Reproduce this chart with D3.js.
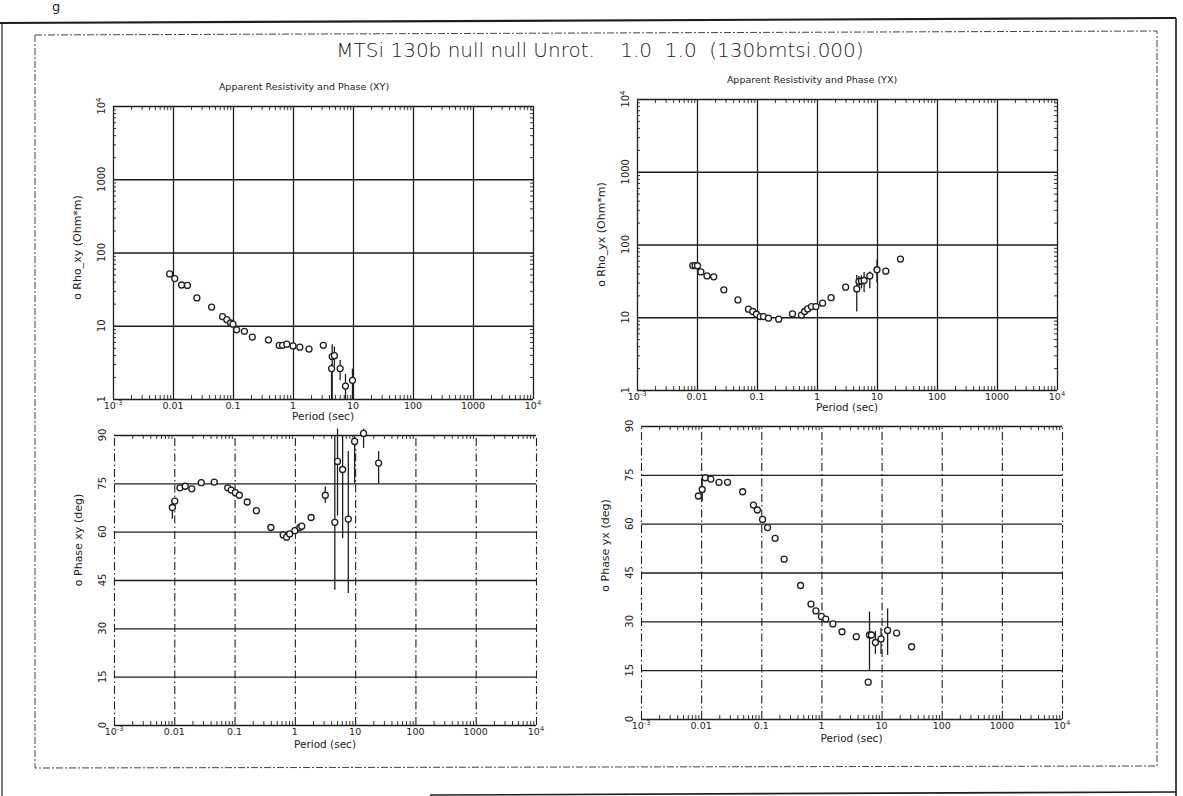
<!DOCTYPE html>
<html><head><meta charset="utf-8">
<script src="https://cdn.jsdelivr.net/npm/d3@7"></script>
<style>
body{margin:0;background:#fff}
svg{display:block}
text{font-family:"DejaVu Sans","Liberation Sans",sans-serif;fill:#222}
</style>
</head><body>
<svg id="c" width="1183" height="796"></svg>
<script>
// ---------- tick data ----------
const periodTicks = [1e-3, 1e-2, 1e-1, 1, 10, 100, 1000, 1e4];
const periodTickLabels = [["10","-3"],["0.01"],["0.1"],["1"],["10"],["100"],["1000"],["10","4"]];
const rhoTicks = [1, 10, 100, 1000, 1e4];
const rhoTickLabels = [["1"],["10"],["100"],["1000"],["10","4"]];
const phaseTicks = [0, 15, 30, 45, 60, 75, 90];
const phaseTickLabels = ["0","15","30","45","60","75","90"];

// ---------- Rho XY ----------
const rhoXYPeriod = [0.0088,0.0107,0.0139,0.0174,0.025,0.044,0.067,0.079,0.091,0.1,0.115,0.155,0.21,0.39,0.59,0.67,0.79,1.0,1.3,1.85,3.2,4.5,4.9,4.4,6.1,7.5,9.8];
const rhoXYValue  = [51,44,36,35.5,24,18,13.3,12.1,10.9,10.5,8.8,8.4,7.0,6.4,5.4,5.4,5.6,5.3,5.1,4.8,5.4,3.8,3.9,2.6,2.6,1.5,1.8];
const rhoXYErrPeriod = [4.4,4.5,4.9,6.1,7.5,9.8];
const rhoXYErrLo     = [1.0,1.0,2.8,1.8,1.0,1.0];
const rhoXYErrHi     = [3.0,5.6,5.2,3.4,2.2,2.6];

// ---------- Rho YX ----------
const rhoYXPeriod = [0.0085,0.0093,0.0102,0.0116,0.0147,0.019,0.028,0.048,0.072,0.085,0.098,0.113,0.128,0.155,0.23,0.39,0.55,0.62,0.7,0.81,0.96,1.24,1.72,3.0,4.6,5.0,5.5,6.1,7.6,10,14,24.6];
const rhoYXValue  = [51.4,51.4,51,42,37,36,23.8,17.3,12.9,12,11,10.2,10.2,9.7,9.4,11.1,10.7,12,13,14,14,15.6,18.6,25.9,24.5,31,31.5,32,37,45,43,63];
const rhoYXErrPeriod = [4.6,5.0,5.5,6.1,7.6,10];
const rhoYXErrLo     = [12,26,25,22,25,30];
const rhoYXErrHi     = [38,37,38,42,42.6,62];

// ---------- Phase XY ----------
const phaseXYPeriod = [0.0093,0.0102,0.0124,0.0152,0.0195,0.028,0.046,0.077,0.088,0.103,0.12,0.162,0.23,0.4,0.64,0.73,0.82,1.0,1.21,1.3,1.86,3.2,4.6,5.1,6.2,7.7,9.8,13.8,24.5];
const phaseXYValue  = [67.5,69.5,73.6,74.1,73.3,75.2,75.4,73.6,72.9,72.1,71.3,69.2,66.5,61.3,59,58.3,59.3,60.3,61.3,61.7,64.4,71.3,62.9,81.8,79.3,63.9,88,90.5,81.3];
const phaseXYErrPeriod = [0.0093,3.2,4.6,5.1,6.2,7.7,9.8,13.8,24.5];
const phaseXYErrLo     = [64,69,42,65,58,41,75,86,75];
const phaseXYErrHi     = [70,74,90,92,90,85,90,92,85];

// ---------- Phase YX ----------
const phaseYXPeriod = [0.009,0.0104,0.0117,0.0145,0.0198,0.0275,0.049,0.074,0.086,0.105,0.127,0.17,0.24,0.45,0.67,0.81,1.0,1.18,1.55,2.2,3.8,6.0,6.3,6.8,7.9,9.8,12.6,17.8,31.6];
const phaseYXValue  = [68.5,70.5,74.1,73.7,72.7,72.7,69.8,65.7,64.2,61.3,58.8,55.5,49.1,41,35.3,33.2,31.5,30.7,29.2,26.8,25.3,11.3,25.8,25.8,23.5,24.6,27.2,26.4,22.2];
const phaseYXErrPeriod = [0.0104,6.3,7.9,9.8,12.6];
const phaseYXErrLo     = [67,15,20,20,19.7];
const phaseYXErrHi     = [74,33,27,28,34];

// ---------- texts ----------
const titleText = "MTSi 130b null null Unrot.    1.0  1.0  (130bmtsi.000)";
const subXY = "Apparent Resistivity and Phase (XY)";
const subYX = "Apparent Resistivity and Phase (YX)";

const svg = d3.select("#c");
const ink = "#1e1e1e";

// page frame (scanned page borders)
svg.append("line").attr("x1",0).attr("y1",23).attr("x2",1176).attr("y2",18).attr("stroke",ink).attr("stroke-width",2.2);
svg.append("line").attr("x1",1176).attr("y1",18).attr("x2",1176).attr("y2",796).attr("stroke",ink).attr("stroke-width",1.6);
svg.append("line").attr("x1",2).attr("y1",23).attr("x2",2).attr("y2",796).attr("stroke",ink).attr("stroke-width",1.2);
svg.append("line").attr("x1",430).attr("y1",795).attr("x2",1176).attr("y2",792).attr("stroke",ink).attr("stroke-width",1.6);
// inner dashed box
const dash = "7,2,2,2";
svg.append("path").attr("d","M35,35 L1157,31 L1157,766 L35,768 Z").attr("fill","none").attr("stroke","#444").attr("stroke-width",1).attr("stroke-dasharray",dash);
svg.append("text").attr("x",52).attr("y",11).attr("font-size",13).text("g");

svg.append("text").attr("x",600).attr("y",57).attr("text-anchor","middle").attr("font-size",20)
  .attr("font-weight",300).style("white-space","pre").attr("fill","#333").text(titleText);

function supLabel(sel, parts, size){
  sel.append("tspan").text(parts[0]);
  if(parts.length>1) sel.append("tspan").attr("font-size",size*0.7).attr("dy",-size*0.45).text(parts[1]);
}

function panel(cfg){
  const {x0,x1,yTop,yBot,kind} = cfg;
  const g = svg.append("g");
  const x = d3.scaleLog().domain([1e-3,1e4]).range([x0,x1]);
  const y = kind==="rho" ? d3.scaleLog().domain([1,1e4]).range([yBot,yTop])
                         : d3.scaleLinear().domain([0,90]).range([yBot,yTop]);
  const yTicks = kind==="rho" ? rhoTicks : phaseTicks;
  // vertical grid
  const vg = g.append("g").attr("transform",`translate(0,${yBot})`)
    .call(d3.axisBottom(x).tickValues(periodTicks).tickSize(-(yBot-yTop)).tickFormat(""));
  vg.select(".domain").remove();
  vg.selectAll("line").attr("stroke",ink).attr("stroke-width",kind==="rho"?1.3:1.1)
    .attr("stroke-dasharray",kind==="rho"?null:"8,3,1.5,3");
  // horizontal grid
  const hg = g.append("g").attr("transform",`translate(${x0},0)`)
    .call(d3.axisLeft(y).tickValues(yTicks).tickSize(-(x1-x0)).tickFormat(""));
  hg.select(".domain").remove();
  hg.selectAll("line").attr("stroke",ink).attr("stroke-width",1.3);
  // minor ticks
  const minorX = [];
  for(let d=-3; d<4; d++) for(let m=2; m<10; m++) minorX.push(m*Math.pow(10,d));
  [[d3.axisBottom, yBot],[d3.axisTop, yTop]].forEach(([ax,pos])=>{
    const mg = g.append("g").attr("transform",`translate(0,${pos})`).call(ax(x).tickValues(minorX).tickSize(-4).tickFormat(""));
    mg.select(".domain").remove();
    mg.selectAll("line").attr("stroke",ink).attr("stroke-width",0.9);
  });
  if(kind==="rho"){
    const minorY=[]; for(let d=0; d<4; d++) for(let m=2; m<10; m++) minorY.push(m*Math.pow(10,d));
    [[d3.axisLeft,x0],[d3.axisRight,x1]].forEach(([ax,pos])=>{
      const mg = g.append("g").attr("transform",`translate(${pos},0)`).call(ax(y).tickValues(minorY).tickSize(-3).tickFormat(""));
      mg.select(".domain").remove();
      mg.selectAll("line").attr("stroke",ink).attr("stroke-width",0.9);
    });
  }
  // x tick labels
  const lblColor = kind==="rho" ? "#222" : "#8a8a8a";
  periodTicks.forEach((v,i)=>{
    const t = g.append("text").attr("x",x(v)).attr("y",yBot+10).attr("text-anchor","middle")
      .attr("font-size",9.5).attr("fill",lblColor);
    supLabel(t, periodTickLabels[i], 9.5);
  });
  g.append("text").attr("x",(x0+x1)/2).attr("y",yBot+(kind==="rho"?21:23)).attr("text-anchor","middle")
    .attr("font-size",10.5).attr("fill",lblColor).text("Period (sec)");
  // y tick labels (rotated)
  yTicks.forEach((v,i)=>{
    const lx = x0-8, ly = y(v);
    const t = g.append("text").attr("transform",`translate(${lx},${ly}) rotate(-90)`)
      .attr("text-anchor","middle").attr("font-size",10);
    if(kind==="rho") supLabel(t, rhoTickLabels[i], 10); else t.text(phaseTickLabels[i]);
  });
  // axis title
  g.append("text").attr("transform",`translate(${x0-32},${(yTop+yBot)/2 + cfg.titleDy}) rotate(-90)`)
    .attr("text-anchor","middle").attr("font-size",11).text(cfg.yTitle);
  if(cfg.sub) g.append("text").attr("x",cfg.subX).attr("y",yTop-16).attr("text-anchor","middle")
    .attr("font-size",9.5).text(cfg.sub);
  // error bars
  cfg.errP.forEach((p,i)=>{
    g.append("line").attr("x1",x(p)).attr("x2",x(p)).attr("y1",y(cfg.errLo[i])).attr("y2",y(cfg.errHi[i]))
      .attr("stroke",ink).attr("stroke-width",1.3);
  });
  // points
  g.selectAll("circle.pt").data(cfg.P.map((p,i)=>[p,cfg.V[i]])).enter().append("circle")
    .attr("class","pt").attr("cx",d=>x(d[0])).attr("cy",d=>y(d[1])).attr("r",3)
    .attr("fill","#fff").attr("stroke",ink).attr("stroke-width",1.3);
}

panel({kind:"rho",x0:113,x1:533,yTop:106,yBot:399,yTitle:"o Rho_xy (Ohm*m)",titleDy:-5,
  sub:subXY,subX:304,P:rhoXYPeriod,V:rhoXYValue,errP:rhoXYErrPeriod,errLo:rhoXYErrLo,errHi:rhoXYErrHi});
panel({kind:"rho",x0:637,x1:1057,yTop:99,yBot:390,yTitle:"o Rho_yx (Ohm*m)",titleDy:-10,
  sub:subYX,subX:812,P:rhoYXPeriod,V:rhoYXValue,errP:rhoYXErrPeriod,errLo:rhoYXErrLo,errHi:rhoYXErrHi});
panel({kind:"phase",x0:114,x1:536,yTop:435,yBot:725,yTitle:"o Phase xy (deg)",titleDy:-40,
  P:phaseXYPeriod,V:phaseXYValue,errP:phaseXYErrPeriod,errLo:phaseXYErrLo,errHi:phaseXYErrHi});
panel({kind:"phase",x0:641,x1:1062,yTop:426,yBot:719,yTitle:"o Phase yx (deg)",titleDy:-27,
  P:phaseYXPeriod,V:phaseYXValue,errP:phaseYXErrPeriod,errLo:phaseYXErrLo,errHi:phaseYXErrHi});
</script>
</body></html>
